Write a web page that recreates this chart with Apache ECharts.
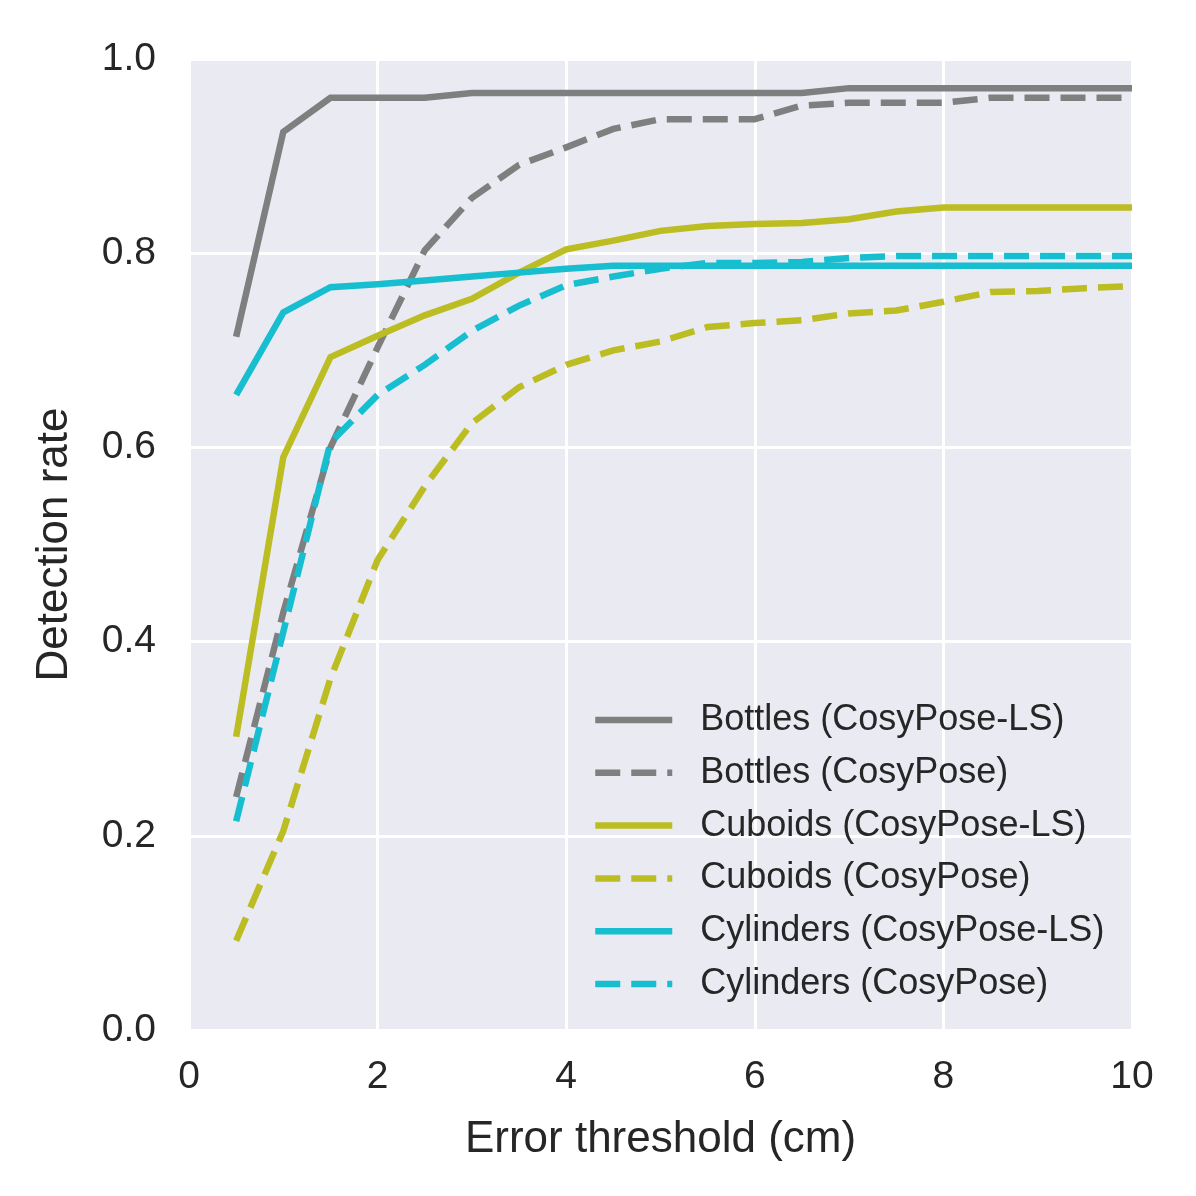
<!DOCTYPE html>
<html>
<head>
<meta charset="utf-8">
<script src="https://cdn.jsdelivr.net/npm/echarts@6/dist/echarts.min.js"></script>
<style>html,body{margin:0;padding:0;background:#fff}#c{width:1196px;height:1196px}</style>
</head>
<body>
<div id="c"></div>
<script>
const thresholds = [0.5,1,1.5,2,2.5,3,3.5,4,4.5,5,5.5,6,6.5,7,7.5,8,8.5,9,9.5,10];
const bottlesLS  = [0.714,0.925,0.960,0.960,0.960,0.965,0.965,0.965,0.965,0.965,0.965,0.965,0.965,0.970,0.970,0.970,0.970,0.970,0.970,0.970];
const bottlesCP  = [0.240,0.430,0.600,0.703,0.803,0.857,0.891,0.909,0.928,0.938,0.938,0.938,0.952,0.955,0.955,0.955,0.960,0.960,0.960,0.960];
const cuboidsLS  = [0.302,0.590,0.693,0.715,0.736,0.753,0.780,0.804,0.813,0.823,0.828,0.830,0.831,0.835,0.843,0.847,0.847,0.847,0.847,0.847];
const cuboidsCP  = [0.092,0.205,0.362,0.484,0.560,0.625,0.662,0.685,0.700,0.709,0.724,0.728,0.731,0.738,0.741,0.750,0.760,0.761,0.764,0.766];
const cylLS      = [0.654,0.739,0.765,0.768,0.772,0.776,0.780,0.784,0.787,0.787,0.787,0.787,0.787,0.787,0.787,0.787,0.787,0.787,0.787,0.787];
const cylCP      = [0.215,0.410,0.605,0.654,0.685,0.720,0.746,0.767,0.776,0.784,0.790,0.790,0.791,0.795,0.797,0.797,0.797,0.797,0.797,0.797];
const seriesNames = ['Bottles (CosyPose-LS)','Bottles (CosyPose)','Cuboids (CosyPose-LS)','Cuboids (CosyPose)','Cylinders (CosyPose-LS)','Cylinders (CosyPose)'];
const xTicks = [0,2,4,6,8,10];
const yTicks = [0.0,0.2,0.4,0.6,0.8,1.0];

const GRAY='#7f7f7f', OLIVE='#bcbd22', CYAN='#17becf';
const FONT='"Liberation Sans", Arial, sans-serif';
const TXT='#262626';
const DASH=[25,11];

function mk(name, vals, color, dashed){
  return {
    name, type:'line', symbol:'none', showSymbol:false, animation:false,
    data: thresholds.map((x,i)=>[x, vals[i]]),
    lineStyle:{color, width:6.5, type: dashed ? DASH : 'solid', cap:'butt', join:'miter'},
    itemStyle:{color}
  };
}

const chart = echarts.init(document.getElementById('c'), null, {renderer:'canvas'});
chart.setOption({
  animation:false,
  backgroundColor:'#ffffff',
  grid:{left:189, right:64, top:59, bottom:166, show:true, backgroundColor:'#EAEAF2', borderWidth:0},
  xAxis:{
    type:'value', min:0, max:10, interval:2,
    name:'Error threshold (cm)', nameLocation:'middle', nameGap:88,
    nameTextStyle:{fontFamily:FONT, fontSize:44, color:TXT},
    axisLine:{show:false}, axisTick:{show:false},
    axisLabel:{fontFamily:FONT, fontSize:39, color:TXT, margin:28,
      formatter:v=> xTicks.includes(v) ? String(v) : ''},
    splitLine:{show:true, lineStyle:{color:'#ffffff', width:3}}
  },
  yAxis:{
    type:'value', min:0, max:1, interval:0.2,
    name:'Detection rate', nameLocation:'middle', nameGap:112,
    nameTextStyle:{fontFamily:FONT, fontSize:44, color:TXT},
    axisLine:{show:false}, axisTick:{show:false},
    axisLabel:{fontFamily:FONT, fontSize:39, color:TXT, margin:33,
      formatter:v=>{const t=yTicks.find(y=>Math.abs(y-v)<1e-9); return t===undefined?'':t.toFixed(1);}},
    splitLine:{show:true, lineStyle:{color:'#ffffff', width:3}}
  },
  legend:{
    orient:'vertical', left:587, top:695,
    itemWidth:77, itemHeight:40, itemGap:12.8,
    itemStyle:{opacity:0},
    lineStyle:{width:6.5},
    textStyle:{fontFamily:FONT, fontSize:36, color:TXT, padding:[0,0,0,23], lineHeight:40},
    data: seriesNames
  },
  series:[
    mk(seriesNames[0], bottlesLS, GRAY, false),
    mk(seriesNames[1], bottlesCP, GRAY, true),
    mk(seriesNames[2], cuboidsLS, OLIVE, false),
    mk(seriesNames[3], cuboidsCP, OLIVE, true),
    mk(seriesNames[4], cylLS, CYAN, false),
    mk(seriesNames[5], cylCP, CYAN, true)
  ]
});
</script>
</body>
</html>
